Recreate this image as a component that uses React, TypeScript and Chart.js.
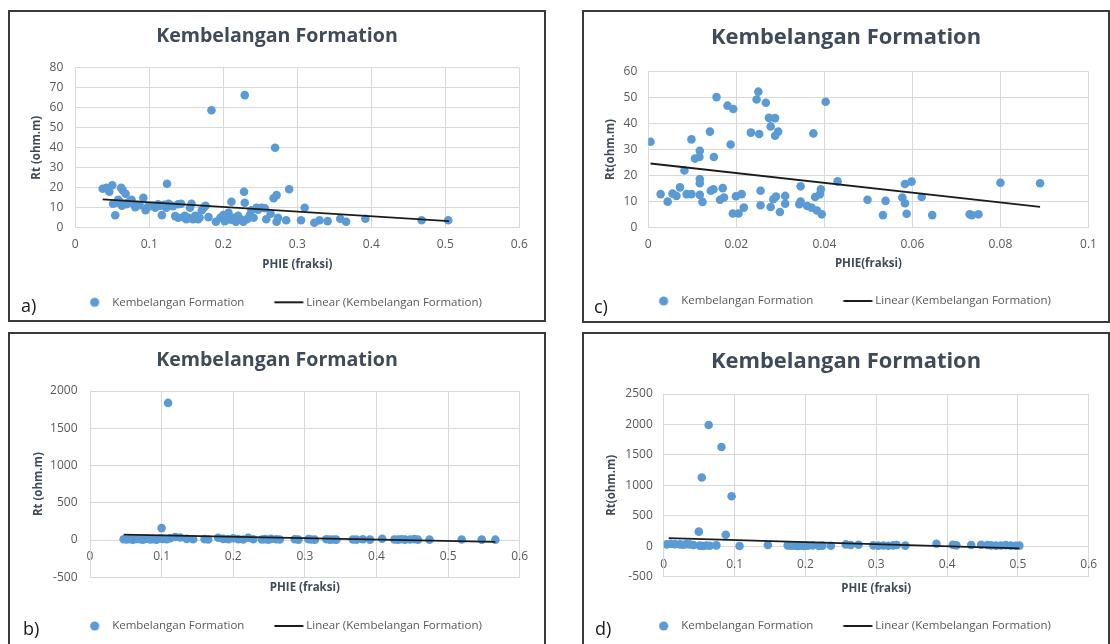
import React, { useEffect, useRef } from "react";
import { Chart, registerables } from "chart.js";

Chart.register(...registerables);

const FONT_FAMILY = '"Open Sans", "DejaVu Sans", sans-serif';
Chart.defaults.font.family = FONT_FAMILY;

const TITLE_TEXT = "Kembelangan Formation";
const SERIES_LABEL = "Kembelangan Formation";
const TREND_LABEL = "Linear (Kembelangan Formation)";

// ---------- Panel a ----------
const aPhie = [0.037,0.042,0.046,0.050,0.051,0.054,0.058,0.062,0.063,0.064,0.068,0.069,0.074,0.076,0.081,0.087,0.092,0.095,0.101,0.108,0.112,0.117,0.123,0.124,0.128,0.132,0.135,0.139,0.139,0.146,0.150,0.155,0.157,0.159,0.164,0.166,0.171,0.174,0.180,0.184,0.190,0.196,0.200,0.202,0.207,0.211,0.214,0.217,0.227,0.228,0.229,0.229,0.232,0.236,0.238,0.241,0.249,0.252,0.256,0.258,0.264,0.268,0.270,0.272,0.272,0.274,0.285,0.289,0.305,0.310,0.323,0.330,0.341,0.358,0.366,0.392,0.468,0.504,0.056,0.060,0.066,0.071,0.078,0.084,0.098,0.105,0.115,0.120,0.126,0.143,0.148,0.153,0.162,0.168,0.176,0.205,0.210,0.220,0.224,0.234,0.245,0.247];
const aRt = [19.5,20,18,21.2,12,6.2,14,20,11,18.7,17,11.7,13.3,14,10.3,11.3,15,8.7,10.8,10,11.7,6.3,10,22,11.3,10.8,5.8,11.7,5,5.3,4.2,10,12,4.2,5.8,4.2,8.7,10.3,5.3,58.7,3,5,6.3,3.3,7.5,13,5,3,3,18,12.5,66.3,4.2,6.3,8.7,5,9.7,10,9.7,4.2,7,14.7,40,16.3,3,5,3.7,19.2,3.7,10,2.5,3.7,3.3,4.5,3,4.5,3.7,3.7,12.5,13,12,12.5,12,11.5,10.5,11,11,11.5,12,12,6,5,6,5,11,5,4,6,4,5,10,9];
const aTrendPhie = [0.037, 0.505];
const aTrendRt = [14.2, 3.3];
const aXAxis = [0, 0.6, 0.1];
const aYAxis = [0, 80, 10];

// ---------- Panel b ----------
const bPhie = [0.047,0.051,0.056,0.060,0.065,0.070,0.074,0.079,0.084,0.088,0.093,0.098,0.100,0.102,0.107,0.109,0.112,0.119,0.126,0.135,0.144,0.160,0.165,0.179,0.186,0.193,0.200,0.207,0.214,0.221,0.228,0.240,0.244,0.249,0.253,0.260,0.265,0.286,0.291,0.305,0.309,0.314,0.330,0.335,0.340,0.344,0.367,0.372,0.381,0.391,0.408,0.425,0.430,0.435,0.440,0.447,0.453,0.458,0.474,0.519,0.547,0.566];
const bRt = [10,8,12,5,15,10,6,18,8,12,5,20,160,15,10,1840,25,40,35,15,10,12,8,30,15,10,25,12,8,30,10,8,12,5,15,10,8,10,6,12,8,5,10,6,8,5,8,5,10,6,18,8,5,10,6,8,12,5,6,8,6,5];
const bTrendPhie = [0.047, 0.566];
const bTrendRt = [72, -25];
const bXAxis = [0, 0.6, 0.1];
const bYAxis = [-500, 2000, 500];

// ---------- Panel c ----------
const cPhie = [0.0005,0.0028,0.0044,0.0055,0.0064,0.0072,0.0082,0.0087,0.0098,0.0098,0.0106,0.0116,0.0117,0.0117,0.0117,0.0117,0.0123,0.014,0.0142,0.0148,0.0149,0.0155,0.0163,0.0169,0.0172,0.018,0.0187,0.0193,0.0192,0.0199,0.0205,0.0212,0.0217,0.0233,0.0246,0.025,0.0252,0.0255,0.0255,0.0267,0.0274,0.0278,0.0278,0.0284,0.0288,0.0288,0.029,0.0295,0.0299,0.0311,0.0311,0.0343,0.0346,0.0346,0.0361,0.0371,0.0375,0.0379,0.0383,0.039,0.0392,0.0394,0.0403,0.043,0.0498,0.0533,0.0539,0.0577,0.0583,0.0583,0.0587,0.0598,0.0621,0.0645,0.073,0.0735,0.075,0.080,0.089];
const cRt = [33,12.8,9.9,13,12.1,15.4,21.9,12.8,12.8,33.9,26.5,27.1,29.5,18.6,17,12.5,9.8,36.9,14.1,14.7,27.1,50.2,10.6,15.1,11.5,46.9,31.9,45.6,5.3,12,5.3,12.8,7.6,36.5,49.3,52.3,36,14.1,8.5,48,42.2,38.9,7.8,10.8,42.1,35.3,11.9,36.9,5.9,12.1,9.1,8.9,9.9,15.8,8.2,7.6,36.2,11.7,6.5,12.8,14.7,5,48.4,17.7,10.6,4.7,10.2,11.5,16.7,9.3,5.2,17.6,11.7,4.7,5,4.7,5,17.2,17];
const cTrendPhie = [0.0005, 0.089];
const cTrendRt = [24.6, 7.9];
const cXAxis = [0, 0.1, 0.02];
const cYAxis = [0, 60, 10];

// ---------- Panel d ----------
const dPhie = [0.004,0.0098,0.0159,0.0229,0.0276,0.0322,0.0369,0.042,0.0495,0.0509,0.0537,0.0556,0.0603,0.0634,0.065,0.0743,0.0815,0.0875,0.0958,0.107,0.147,0.175,0.179,0.184,0.189,0.193,0.198,0.203,0.210,0.219,0.224,0.236,0.257,0.264,0.275,0.296,0.303,0.310,0.317,0.324,0.329,0.341,0.385,0.408,0.413,0.434,0.448,0.457,0.462,0.469,0.476,0.483,0.490,0.497,0.502];
const dRt = [30,40,35,30,25,35,30,20,240,10,1130,5,12,1990,8,15,1630,190,820,5,20,15,10,8,5,10,6,8,12,5,10,8,30,20,25,15,10,12,8,15,20,10,40,25,15,20,25,20,15,10,12,18,10,8,10];
const dTrendPhie = [0.007, 0.502];
const dTrendRt = [135, -35];
const dXAxis = [0, 0.6, 0.1];
const dYAxis = [-500, 2500, 500];

// ---------- styles ----------
const MARKER = "#5b9bd5";
const TREND = "#1c1c1c";
const GRID = "#d9d9d9";
const TICK = "#595959";
const TITLE_COLOR = "#404b5a";
const AXIS_TITLE_COLOR = "#404b5a";
const LEGEND_COLOR = "#595959";

type Layout = {
  box: { left: number; top: number; width: number; height: number };
  W: number; H: number;
  plotLeft: number; plotRight: number; plotTop: number; plotBottom: number;
  titleCenter: number; titleSize: number;
  xTickOffset: number; xTitleCenter: number; legendCenter: number;
  yTitleCenter: number; yTickGap: number;
  label: { text: string; left: number; top: number };
};

type Spec = {
  phie: number[]; rt: number[]; tPhie: number[]; tRt: number[];
  xAxis: number[]; yAxis: number[];
  xTitle: string; yTitle: string; xAtZero: boolean; layout: Layout;
};

const SPECS: Spec[] = [
  {
    phie: aPhie, rt: aRt, tPhie: aTrendPhie, tRt: aTrendRt, xAxis: aXAxis, yAxis: aYAxis,
    xTitle: "PHIE (fraksi)", yTitle: "Rt (ohm.m)", xAtZero: false,
    layout: {
      box: { left: 8, top: 10, width: 538, height: 312 }, W: 534, H: 308,
      plotLeft: 65.3, plotRight: 509.3, plotTop: 55.7, plotBottom: 215.7,
      titleCenter: 24, titleSize: 19.6, xTickOffset: 16.6, xTitleCenter: 253,
      legendCenter: 290.3, yTitleCenter: 27, yTickGap: 12,
      label: { text: "a)", left: 11, top: 283 },
    },
  },
  {
    phie: cPhie, rt: cRt, tPhie: cTrendPhie, tRt: cTrendRt, xAxis: cXAxis, yAxis: cYAxis,
    xTitle: "PHIE(fraksi)", yTitle: "Rt(ohm.m)", xAtZero: false,
    layout: {
      box: { left: 582, top: 10, width: 528, height: 313 }, W: 524, H: 309,
      plotLeft: 64.3, plotRight: 504.5, plotTop: 59.7, plotBottom: 215.3,
      titleCenter: 26, titleSize: 21.9, xTickOffset: 17, xTitleCenter: 252,
      legendCenter: 289, yTitleCenter: 27, yTickGap: 11,
      label: { text: "c)", left: 10, top: 284 },
    },
  },
  {
    phie: bPhie, rt: bRt, tPhie: bTrendPhie, tRt: bTrendRt, xAxis: bXAxis, yAxis: bYAxis,
    xTitle: "PHIE (fraksi)", yTitle: "Rt (ohm.m)", xAtZero: true,
    layout: {
      box: { left: 8, top: 332, width: 538, height: 320 }, W: 534, H: 310,
      plotLeft: 80, plotRight: 509.7, plotTop: 57, plotBottom: 243.3,
      titleCenter: 26, titleSize: 19.6, xTickOffset: 17, xTitleCenter: 254,
      legendCenter: 292, yTitleCenter: 28.8, yTickGap: 12.5,
      label: { text: "b)", left: 13, top: 284 },
    },
  },
  {
    phie: dPhie, rt: dRt, tPhie: dTrendPhie, tRt: dTrendRt, xAxis: dXAxis, yAxis: dYAxis,
    xTitle: "PHIE (fraksi)", yTitle: "Rt(ohm.m)", xAtZero: true,
    layout: {
      box: { left: 582, top: 332, width: 528, height: 320 }, W: 524, H: 310,
      plotLeft: 79.75, plotRight: 507, plotTop: 60, plotBottom: 242.7,
      titleCenter: 28, titleSize: 21.9, xTickOffset: 18, xTitleCenter: 254.3,
      legendCenter: 292, yTitleCenter: 28, yTickGap: 11,
      label: { text: "d)", left: 11, top: 284 },
    },
  },
];

function makeCircleImage(offset: number, r: number, color: string) {
  const half = Math.ceil(Math.abs(offset) + r + 2);
  const c = document.createElement("canvas");
  c.width = half * 2;
  c.height = Math.ceil(r * 2 + 4);
  const ctx = c.getContext("2d")!;
  ctx.fillStyle = color;
  ctx.beginPath();
  ctx.arc(half + offset, c.height / 2, r, 0, Math.PI * 2);
  ctx.fill();
  return c;
}

function makeLineImage(start: number, end: number, width: number, color: string) {
  const half = Math.ceil(Math.max(Math.abs(start), Math.abs(end)) + 2);
  const c = document.createElement("canvas");
  c.width = half * 2;
  c.height = 4;
  const ctx = c.getContext("2d")!;
  ctx.fillStyle = color;
  ctx.fillRect(half + start, 2 - width / 2, end - start, width);
  return c;
}

const fmt = (v: any) => String(parseFloat(Number(v).toFixed(8)));

function Panel({ spec }: { spec: Spec }) {
  const ref = useRef<HTMLCanvasElement | null>(null);
  useEffect(() => {
    const L = spec.layout;
    const legendSize = 11.5;
    const legendPad = 22;
    const gapToLine = 30, lineLen = 29, lineToText = 3, circleToText = 17.5;
    const boxW = gapToLine + lineLen + lineToText - legendPad - legendSize / 2;
    const circleOffset = boxW / 2 + legendSize / 2 - circleToText;
    const lineStart = boxW / 2 + legendSize / 2 - lineToText - lineLen;
    const lineEnd = boxW / 2 + legendSize / 2 - lineToText;
    const circleImg = makeCircleImage(circleOffset, 4.6, MARKER);
    const lineImg = makeLineImage(lineStart, lineEnd, 2, TREND);

    const legendBottomPad = L.H - L.legendCenter - legendSize / 2 - 10;
    const legendTop = L.legendCenter - legendSize / 2 - legendPad;
    const titleLh = L.titleSize * 1.2;
    const axisTitleSize = 11.5;
    const axisTitleLh = axisTitleSize * 1.2;
    const tickSize = 12;
    const tickLh = tickSize * 1.2;
    const bottomBand = legendTop - L.plotBottom;
    const xTitlePad = legendTop - L.xTitleCenter - axisTitleLh / 2;

    const xTitle = {
      display: true, text: spec.xTitle, color: AXIS_TITLE_COLOR,
      font: { size: axisTitleSize, weight: "bold" },
      padding: { top: 0, bottom: xTitlePad },
    };

    const scales: any = {
      x: {
        type: "linear",
        min: spec.xAxis[0], max: spec.xAxis[1],
        position: spec.xAtZero ? { y: 0 } : "bottom",
        ticks: {
          stepSize: spec.xAxis[2], padding: L.xTickOffset - tickLh / 2, color: TICK,
          font: { size: tickSize }, callback: fmt, maxRotation: 0, autoSkip: false,
        },
        grid: { color: GRID, drawTicks: false },
        border: { color: GRID },
        title: spec.xAtZero ? { display: false } : xTitle,
      },
      y: {
        type: "linear",
        min: spec.yAxis[0], max: spec.yAxis[1],
        ticks: { stepSize: spec.yAxis[2], padding: L.yTickGap, color: TICK, font: { size: tickSize }, callback: fmt },
        grid: { color: GRID, drawTicks: false },
        border: { color: GRID },
        title: {
          display: true, text: spec.yTitle, color: AXIS_TITLE_COLOR,
          font: { size: axisTitleSize, weight: "bold" },
          padding: { top: L.yTitleCenter - axisTitleLh / 2, bottom: 0 },
        },
        afterFit: (s: any) => { s.width = L.plotLeft; },
      },
      yr: {
        type: "linear", axis: "y", position: "right", min: 0, max: 1,
        grid: { display: false }, border: { display: false }, ticks: { display: false },
        afterFit: (s: any) => { s.width = L.W - L.plotRight; },
      },
    };
    if (spec.xAtZero) {
      scales.x2 = {
        type: "linear", axis: "x", position: "bottom",
        min: spec.xAxis[0], max: spec.xAxis[1],
        grid: { display: false }, border: { display: false }, ticks: { display: false },
        title: xTitle,
        afterFit: (s: any) => { s.height = bottomBand; },
      };
    } else {
      scales.x.afterFit = (s: any) => { s.height = bottomBand; };
    }

    const chart = new Chart(ref.current!, {
      type: "scatter",
      data: {
        datasets: [
          {
            label: SERIES_LABEL,
            data: spec.phie.map((x, i) => ({ x, y: spec.rt[i] })),
            pointRadius: 4.3,
            pointBackgroundColor: MARKER,
            pointBorderColor: MARKER,
            pointBorderWidth: 0,
            backgroundColor: MARKER,
            borderColor: MARKER,
            showLine: false,
            order: 1,
          },
          {
            label: TREND_LABEL,
            data: spec.tPhie.map((x, i) => ({ x, y: spec.tRt[i] })),
            showLine: true,
            borderColor: TREND,
            backgroundColor: TREND,
            borderWidth: 1.8,
            pointRadius: 0,
            order: 0,
          },
        ],
      } as any,
      options: {
        animation: false,
        responsive: false,
        devicePixelRatio: 1,
        events: [],
        layout: { padding: { left: 0, right: 0, top: 0, bottom: legendBottomPad } },
        scales,
        plugins: {
          title: {
            display: true, text: TITLE_TEXT, color: TITLE_COLOR,
            font: { size: L.titleSize, weight: "bold" },
            padding: { top: L.titleCenter - titleLh / 2, bottom: L.plotTop - L.titleCenter - titleLh / 2 },
          },
          legend: {
            position: "bottom",
            labels: {
              usePointStyle: true,
              pointStyleWidth: boxW,
              padding: legendPad,
              color: LEGEND_COLOR,
              font: { size: legendSize },
              generateLabels: (chart: any) => {
                const items = (Chart.defaults as any).plugins.legend.labels.generateLabels(chart);
                items.sort((a: any, b: any) => a.datasetIndex - b.datasetIndex);
                items.forEach((it: any) => { it.pointStyle = it.datasetIndex === 0 ? circleImg : lineImg; });
                return items;
              },
            },
          },
          tooltip: { enabled: false },
        },
      } as any,
    });
    return () => chart.destroy();
  }, [spec]);

  const L = spec.layout;
  return (
    <div
      style={{
        position: "absolute", left: L.box.left, top: L.box.top, width: L.box.width, height: L.box.height,
        border: "2px solid #3a3a3a", boxSizing: "border-box", background: "#fff",
      }}
    >
      <canvas ref={ref} width={L.W} height={L.H} style={{ display: "block", width: L.W, height: L.H }} />
      <div
        style={{
          position: "absolute", left: L.label.left, top: L.label.top, fontSize: 18, lineHeight: "20px",
          fontFamily: FONT_FAMILY, color: "#1a1a1a",
        }}
      >
        {L.label.text}
      </div>
    </div>
  );
}

export default function App() {
  return (
    <div
      style={{
        position: "fixed", left: 0, top: 0, width: 1110, height: 644, overflow: "hidden",
        background: "#fff", fontFamily: FONT_FAMILY,
      }}
    >
      {SPECS.map((s, i) => (
        <Panel key={i} spec={s} />
      ))}
    </div>
  );
}
